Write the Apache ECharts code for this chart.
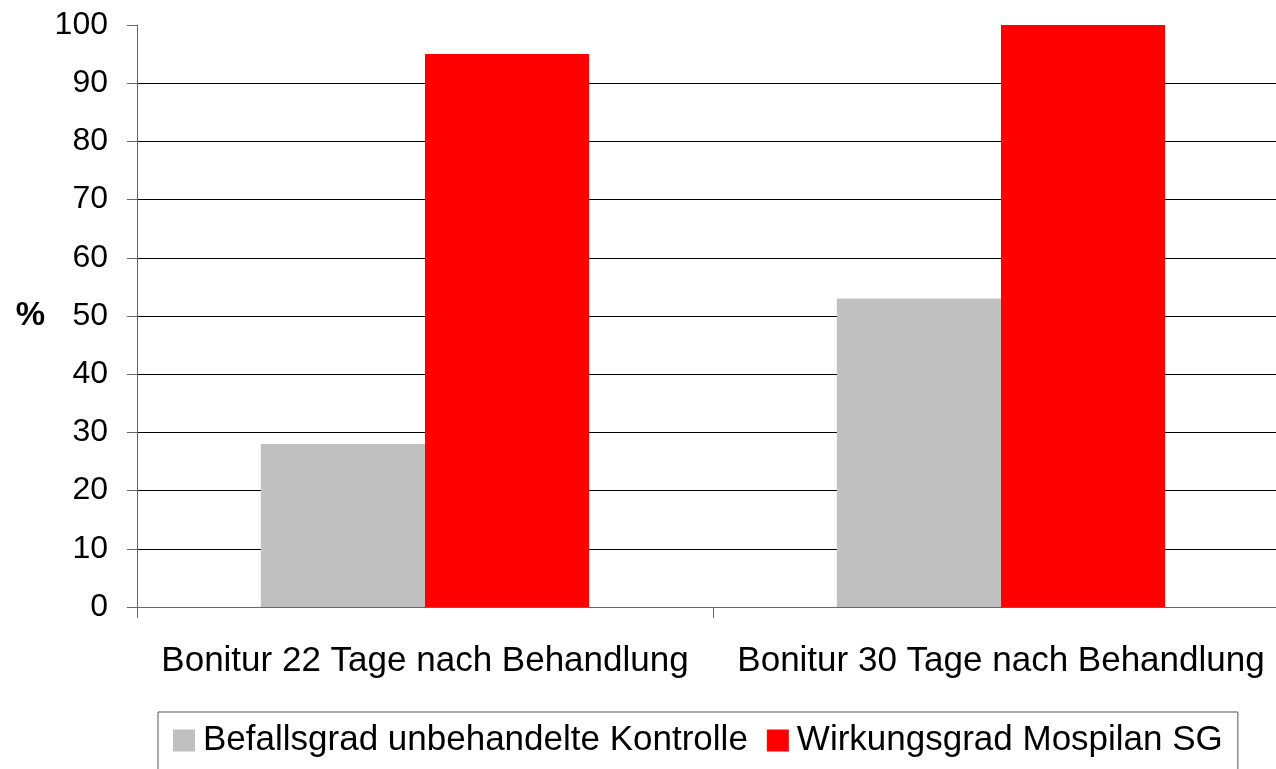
<!DOCTYPE html>
<html>
<head>
<meta charset="utf-8">
<script src="https://cdn.jsdelivr.net/npm/echarts@6/dist/echarts.min.js"></script>
<style>
  html, body { margin: 0; padding: 0; background: #fff; overflow: hidden; }
  /* a bit wider than the window: the plot runs past the right edge, as in the original */
  #main { width: 1289px; height: 769px; }
</style>
</head>
<body>
<div id="main"></div>
<script>
  var categories = ['Bonitur 22 Tage nach Behandlung', 'Bonitur 30 Tage nach Behandlung'];
  var befallsgrad = [28, 53];
  var wirkungsgrad = [95, 100];
  var seriesNames = ['Befallsgrad unbehandelte Kontrolle', 'Wirkungsgrad Mospilan SG'];

  var font = '"Liberation Sans", Arial, sans-serif';
  // the top gridline (100) is not drawn in the original
  var gridColors = ['#000', '#000', '#000', '#000', '#000', '#000', '#000', '#000', '#000', '#000', 'rgba(0,0,0,0)'];

  var chart = echarts.init(document.getElementById('main'));
  chart.setOption({
    animation: false,
    textStyle: { fontFamily: font, color: '#000' },
    grid: { left: 137, right: 0, top: 25, bottom: 162 },
    legend: {
      left: 158,
      top: 712,
      padding: [11, 15, 40, 15],
      borderColor: '#555',
      borderWidth: 1,
      itemWidth: 22,
      itemHeight: 22,
      itemGap: 19,
      icon: 'rect',
      textStyle: { fontSize: 35, fontFamily: font, color: '#000', padding: [0, 0, 0, 3] },
      data: seriesNames
    },
    xAxis: {
      type: 'category',
      data: categories,
      axisLine: { lineStyle: { color: '#666', width: 1 } },
      axisTick: { show: true, length: 11, lineStyle: { color: '#666' } },
      axisLabel: { fontSize: 35, fontFamily: font, color: '#000', margin: 37, interval: 0, hideOverlap: false }
    },
    yAxis: {
      type: 'value',
      min: 0,
      max: 100,
      interval: 10,
      name: '%',
      nameLocation: 'middle',
      nameRotate: 0,
      nameGap: 92,
      nameTextStyle: { fontSize: 33, fontWeight: 'bold', fontFamily: font, color: '#000' },
      axisLine: { show: true, lineStyle: { color: '#666', width: 1 } },
      axisTick: { show: true, length: 10, lineStyle: { color: '#666' } },
      axisLabel: { fontSize: 32, fontFamily: font, color: '#000', margin: 29 },
      splitLine: { show: true, lineStyle: { color: gridColors, width: 1 } }
    },
    series: [
      {
        name: seriesNames[0],
        type: 'bar',
        data: befallsgrad,
        barGap: '0%',
        barCategoryGap: '43%',
        itemStyle: { color: '#c0c0c0' }
      },
      {
        name: seriesNames[1],
        type: 'bar',
        data: wirkungsgrad,
        barGap: '0%',
        barCategoryGap: '43%',
        itemStyle: { color: '#ff0000' }
      }
    ]
  });
</script>
</body>
</html>
